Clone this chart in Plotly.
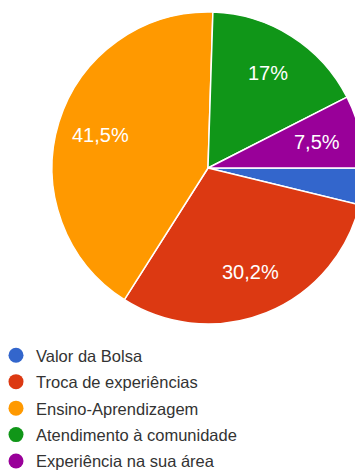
import math
import plotly.graph_objects as go

# Survey answers and their shares (%)
categories = [
    "Valor da Bolsa",
    "Troca de experiências",
    "Ensino-Aprendizagem",
    "Atendimento à comunidade",
    "Experiência na sua área",
]
shares = [3.8, 30.2, 41.5, 17.0, 7.5]
colors = ["#3366cc", "#dc3912", "#ff9900", "#109618", "#990099"]

W, H = 380, 471            # figure is a bit wider than the window so the pie runs off the right edge
CX, CY, R = 208, 168, 156  # pie centre / radius in pixels
START = 90                 # first slice starts at 3 o'clock, clockwise
FONT = "Arial, Liberation Sans, sans-serif"

fig = go.Figure()
fig.add_trace(go.Pie(
    labels=categories,
    values=shares,
    sort=False,
    direction="clockwise",
    rotation=START,
    marker=dict(colors=colors, line=dict(color="white", width=1.5)),
    textinfo="none",
    hoverinfo="label+percent",
    showlegend=False,
    domain=dict(x=[(CX - R) / W, (CX + R) / W], y=[1 - (CY + R) / H, 1 - (CY - R) / H]),
))

# percentage labels inside the slices
total = sum(shares)
acc = 0.0
for v in shares:
    mid = START + (acc + v / 2) / total * 360
    acc += v
    if v / total < 0.05:
        continue
    a = math.radians(mid)
    px = CX + 0.72 * R * math.sin(a)
    py = CY - 0.72 * R * math.cos(a)
    txt = f"{v:.1f}".replace(".", ",")
    if txt.endswith(",0"):
        txt = txt[:-2]
    fig.add_annotation(
        x=px / W, y=1 - py / H, xref="paper", yref="paper",
        xanchor="center", yanchor="middle",
        text=txt + "%", showarrow=False,
        font=dict(family=FONT, size=20, color="white"),
    )

# legend entries with round markers
for i, (c, col) in enumerate(zip(categories, colors)):
    fig.add_trace(go.Scatter(
        x=[None], y=[None], mode="markers", name=c,
        marker=dict(symbol="circle", size=15, color=col),
        legendgroup=f"g{i}", showlegend=True,
    ))

fig.update_layout(
    width=W, height=H,
    margin=dict(l=0, r=0, t=0, b=0, autoexpand=False),
    paper_bgcolor="white", plot_bgcolor="white",
    xaxis=dict(visible=False), yaxis=dict(visible=False),
    showlegend=True,
    legend=dict(
        x=-4 / W, y=1 - 338 / H, xanchor="left", yanchor="top",
        font=dict(family=FONT, size=16.5, color="#333333"),
        tracegroupgap=2, bgcolor="rgba(0,0,0,0)",
    ),
)

fig.write_html(
    "out.html",
    post_script="document.documentElement.style.overflow='hidden';document.body.style.overflow='hidden';document.body.style.margin='0';",
)
